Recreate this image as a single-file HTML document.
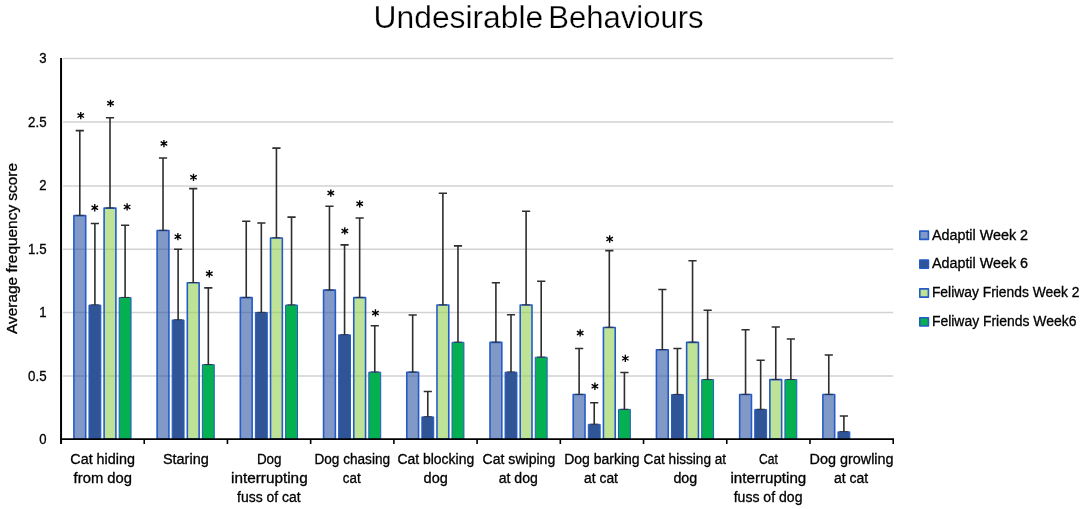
<!DOCTYPE html>
<html><head><meta charset="utf-8"><title>Undesirable Behaviours</title>
<style>html,body{margin:0;padding:0;background:#fff}body{width:1084px;height:509px;overflow:hidden}svg{display:block;will-change:transform;opacity:.999}text{font-family:"Liberation Sans",sans-serif;fill:#000;stroke:#000;stroke-width:.3px}</style></head><body>
<svg width="1084" height="509" viewBox="0 0 1084 509">
<rect width="1084" height="509" fill="#fff"/>
<g stroke="#d2d2d2" stroke-width="1.5">
<line x1="63" y1="375.95" x2="893.2" y2="375.95"/>
<line x1="63" y1="312.60" x2="893.2" y2="312.60"/>
<line x1="63" y1="249.15" x2="893.2" y2="249.15"/>
<line x1="63" y1="186.00" x2="893.2" y2="186.00"/>
<line x1="63" y1="121.90" x2="893.2" y2="121.90"/>
<line x1="63" y1="58.40" x2="893.2" y2="58.40"/>
</g>
<g stroke-width="1.6" stroke-linejoin="round">
<rect x="73.90" y="215.59" width="11.80" height="223.41" fill="#2b55a2" fill-opacity="0.6" stroke="#255bc9" stroke-width="1.6"/>
<rect x="88.95" y="305.02" width="11.90" height="133.98" fill="#2f5597" fill-opacity="1" stroke="#255bc9" stroke-width="1.0"/>
<rect x="104.10" y="208.13" width="11.80" height="230.87" fill="#92d050" fill-opacity="0.6" stroke="#255bc9" stroke-width="1.6"/>
<rect x="119.15" y="297.57" width="11.90" height="141.43" fill="#05b050" fill-opacity="1" stroke="#255bc9" stroke-width="1.0"/>
<rect x="157.12" y="230.50" width="11.80" height="208.50" fill="#2b55a2" fill-opacity="0.6" stroke="#255bc9" stroke-width="1.6"/>
<rect x="172.17" y="319.94" width="11.90" height="119.06" fill="#2f5597" fill-opacity="1" stroke="#255bc9" stroke-width="1.0"/>
<rect x="187.32" y="282.70" width="11.80" height="156.30" fill="#92d050" fill-opacity="0.6" stroke="#255bc9" stroke-width="1.6"/>
<rect x="202.37" y="364.68" width="11.90" height="74.32" fill="#05b050" fill-opacity="1" stroke="#255bc9" stroke-width="1.0"/>
<rect x="240.34" y="297.62" width="11.80" height="141.38" fill="#2b55a2" fill-opacity="0.6" stroke="#255bc9" stroke-width="1.6"/>
<rect x="255.39" y="312.48" width="11.90" height="126.52" fill="#2f5597" fill-opacity="1" stroke="#255bc9" stroke-width="1.0"/>
<rect x="270.54" y="237.96" width="11.80" height="201.04" fill="#92d050" fill-opacity="0.6" stroke="#255bc9" stroke-width="1.6"/>
<rect x="285.59" y="305.02" width="11.90" height="133.98" fill="#05b050" fill-opacity="1" stroke="#255bc9" stroke-width="1.0"/>
<rect x="323.56" y="290.16" width="11.80" height="148.84" fill="#2b55a2" fill-opacity="0.6" stroke="#255bc9" stroke-width="1.6"/>
<rect x="338.61" y="334.85" width="11.90" height="104.15" fill="#2f5597" fill-opacity="1" stroke="#255bc9" stroke-width="1.0"/>
<rect x="353.76" y="297.62" width="11.80" height="141.38" fill="#92d050" fill-opacity="0.6" stroke="#255bc9" stroke-width="1.6"/>
<rect x="368.81" y="372.14" width="11.90" height="66.86" fill="#05b050" fill-opacity="1" stroke="#255bc9" stroke-width="1.0"/>
<rect x="406.78" y="372.19" width="11.80" height="66.81" fill="#2b55a2" fill-opacity="0.6" stroke="#255bc9" stroke-width="1.6"/>
<rect x="421.83" y="416.88" width="11.90" height="22.12" fill="#2f5597" fill-opacity="1" stroke="#255bc9" stroke-width="1.0"/>
<rect x="436.98" y="305.07" width="11.80" height="133.93" fill="#92d050" fill-opacity="0.6" stroke="#255bc9" stroke-width="1.6"/>
<rect x="452.03" y="342.31" width="11.90" height="96.69" fill="#05b050" fill-opacity="1" stroke="#255bc9" stroke-width="1.0"/>
<rect x="490.00" y="342.36" width="11.80" height="96.64" fill="#2b55a2" fill-opacity="0.6" stroke="#255bc9" stroke-width="1.6"/>
<rect x="505.05" y="372.14" width="11.90" height="66.86" fill="#2f5597" fill-opacity="1" stroke="#255bc9" stroke-width="1.0"/>
<rect x="520.20" y="305.07" width="11.80" height="133.93" fill="#92d050" fill-opacity="0.6" stroke="#255bc9" stroke-width="1.6"/>
<rect x="535.25" y="357.22" width="11.90" height="81.78" fill="#05b050" fill-opacity="1" stroke="#255bc9" stroke-width="1.0"/>
<rect x="573.22" y="394.56" width="11.80" height="44.44" fill="#2b55a2" fill-opacity="0.6" stroke="#255bc9" stroke-width="1.6"/>
<rect x="588.27" y="424.34" width="11.90" height="14.66" fill="#2f5597" fill-opacity="1" stroke="#255bc9" stroke-width="1.0"/>
<rect x="603.42" y="327.44" width="11.80" height="111.56" fill="#92d050" fill-opacity="0.6" stroke="#255bc9" stroke-width="1.6"/>
<rect x="618.47" y="409.42" width="11.90" height="29.58" fill="#05b050" fill-opacity="1" stroke="#255bc9" stroke-width="1.0"/>
<rect x="656.44" y="349.82" width="11.80" height="89.18" fill="#2b55a2" fill-opacity="0.6" stroke="#255bc9" stroke-width="1.6"/>
<rect x="671.49" y="394.51" width="11.90" height="44.49" fill="#2f5597" fill-opacity="1" stroke="#255bc9" stroke-width="1.0"/>
<rect x="686.64" y="342.36" width="11.80" height="96.64" fill="#92d050" fill-opacity="0.6" stroke="#255bc9" stroke-width="1.6"/>
<rect x="701.69" y="379.59" width="11.90" height="59.41" fill="#05b050" fill-opacity="1" stroke="#255bc9" stroke-width="1.0"/>
<rect x="739.66" y="394.56" width="11.80" height="44.44" fill="#2b55a2" fill-opacity="0.6" stroke="#255bc9" stroke-width="1.6"/>
<rect x="754.71" y="409.42" width="11.90" height="29.58" fill="#2f5597" fill-opacity="1" stroke="#255bc9" stroke-width="1.0"/>
<rect x="769.86" y="379.64" width="11.80" height="59.36" fill="#92d050" fill-opacity="0.6" stroke="#255bc9" stroke-width="1.6"/>
<rect x="784.91" y="379.59" width="11.90" height="59.41" fill="#05b050" fill-opacity="1" stroke="#255bc9" stroke-width="1.0"/>
<rect x="822.88" y="394.56" width="11.80" height="44.44" fill="#2b55a2" fill-opacity="0.6" stroke="#255bc9" stroke-width="1.6"/>
<rect x="837.93" y="431.79" width="11.90" height="7.21" fill="#2f5597" fill-opacity="1" stroke="#255bc9" stroke-width="1.0"/>
</g>
<g stroke="#2e2e2e" stroke-width="1.6" fill="none">
<path d="M79.80 215.59V130.60M75.70 130.60H83.90"/><path stroke-width="0.9" d="M75.80 215.39H83.80"/>
<path d="M94.90 305.07V223.50M90.80 223.50H99.00"/><path stroke-width="0.9" d="M90.90 304.87H98.90"/>
<path d="M110.00 208.13V117.80M105.90 117.80H114.10"/><path stroke-width="0.9" d="M106.00 207.93H114.00"/>
<path d="M125.10 297.62V225.30M121.00 225.30H129.20"/><path stroke-width="0.9" d="M121.10 297.42H129.10"/>
<path d="M163.02 230.50V158.00M158.92 158.00H167.12"/><path stroke-width="0.9" d="M159.02 230.30H167.02"/>
<path d="M178.12 319.99V249.30M174.02 249.30H182.22"/><path stroke-width="0.9" d="M174.12 319.79H182.12"/>
<path d="M193.22 282.70V188.60M189.12 188.60H197.32"/><path stroke-width="0.9" d="M189.22 282.50H197.22"/>
<path d="M208.32 364.73V287.90M204.22 287.90H212.42"/><path stroke-width="0.9" d="M204.32 364.53H212.32"/>
<path d="M246.24 297.62V221.20M242.14 221.20H250.34"/><path stroke-width="0.9" d="M242.24 297.42H250.24"/>
<path d="M261.34 312.53V223.00M257.24 223.00H265.44"/><path stroke-width="0.9" d="M257.34 312.33H265.34"/>
<path d="M276.44 237.96V148.10M272.34 148.10H280.54"/><path stroke-width="0.9" d="M272.44 237.76H280.44"/>
<path d="M291.54 305.07V217.15M287.44 217.15H295.64"/><path stroke-width="0.9" d="M287.54 304.87H295.54"/>
<path d="M329.46 290.16V206.25M325.36 206.25H333.56"/><path stroke-width="0.9" d="M325.46 289.96H333.46"/>
<path d="M344.56 334.90V244.90M340.46 244.90H348.66"/><path stroke-width="0.9" d="M340.56 334.70H348.56"/>
<path d="M359.66 297.62V218.00M355.56 218.00H363.76"/><path stroke-width="0.9" d="M355.66 297.42H363.66"/>
<path d="M374.76 372.19V325.80M370.66 325.80H378.86"/><path stroke-width="0.9" d="M370.76 371.99H378.76"/>
<path d="M412.68 372.19V315.00M408.58 315.00H416.78"/><path stroke-width="0.9" d="M408.68 371.99H416.68"/>
<path d="M427.78 416.93V391.50M423.68 391.50H431.88"/><path stroke-width="0.9" d="M423.78 416.73H431.78"/>
<path d="M442.88 305.07V193.30M438.78 193.30H446.98"/><path stroke-width="0.9" d="M438.88 304.87H446.88"/>
<path d="M457.98 342.36V245.90M453.88 245.90H462.08"/><path stroke-width="0.9" d="M453.98 342.16H461.98"/>
<path d="M495.90 342.36V282.75M491.80 282.75H500.00"/><path stroke-width="0.9" d="M491.90 342.16H499.90"/>
<path d="M511.00 372.19V314.75M506.90 314.75H515.10"/><path stroke-width="0.9" d="M507.00 371.99H515.00"/>
<path d="M526.10 305.07V211.25M522.00 211.25H530.20"/><path stroke-width="0.9" d="M522.10 304.87H530.10"/>
<path d="M541.20 357.27V281.25M537.10 281.25H545.30"/><path stroke-width="0.9" d="M537.20 357.07H545.20"/>
<path d="M579.12 394.56V348.50M575.02 348.50H583.22"/><path stroke-width="0.9" d="M575.12 394.36H583.12"/>
<path d="M594.22 424.39V402.80M590.12 402.80H598.32"/><path stroke-width="0.9" d="M590.22 424.19H598.22"/>
<path d="M609.32 327.44V250.65M605.22 250.65H613.42"/><path stroke-width="0.9" d="M605.32 327.24H613.32"/>
<path d="M624.42 409.47V372.50M620.32 372.50H628.52"/><path stroke-width="0.9" d="M620.42 409.27H628.42"/>
<path d="M662.34 349.82V289.50M658.24 289.50H666.44"/><path stroke-width="0.9" d="M658.34 349.62H666.34"/>
<path d="M677.44 394.56V348.50M673.34 348.50H681.54"/><path stroke-width="0.9" d="M673.44 394.36H681.44"/>
<path d="M692.54 342.36V260.75M688.44 260.75H696.64"/><path stroke-width="0.9" d="M688.54 342.16H696.54"/>
<path d="M707.64 379.64V310.25M703.54 310.25H711.74"/><path stroke-width="0.9" d="M703.64 379.44H711.64"/>
<path d="M745.56 394.56V329.75M741.46 329.75H749.66"/><path stroke-width="0.9" d="M741.56 394.36H749.56"/>
<path d="M760.66 409.47V360.25M756.56 360.25H764.76"/><path stroke-width="0.9" d="M756.66 409.27H764.66"/>
<path d="M775.76 379.64V327.00M771.66 327.00H779.86"/><path stroke-width="0.9" d="M771.76 379.44H779.76"/>
<path d="M790.86 379.64V339.00M786.76 339.00H794.96"/><path stroke-width="0.9" d="M786.86 379.44H794.86"/>
<path d="M828.78 394.56V355.00M824.68 355.00H832.88"/><path stroke-width="0.9" d="M824.78 394.36H832.78"/>
<path d="M843.88 431.84V416.00M839.78 416.00H847.98"/><path stroke-width="0.9" d="M839.88 431.64H847.88"/>
</g>
<g stroke="#000" stroke-width="1.35" stroke-linecap="butt">
<path d="M80.76 111.95V119.25M77.48 113.70L84.05 117.50M77.48 117.50L84.05 113.70"/>
<path d="M94.76 204.12V211.42M91.48 205.87L98.05 209.67M91.48 209.67L98.05 205.87"/>
<path d="M110.50 99.65V106.95M107.22 101.40L113.78 105.20M107.22 105.20L113.78 101.40"/>
<path d="M127.10 203.25V210.55M123.81 205.00L130.38 208.80M123.81 208.80L130.38 205.00"/>
<path d="M163.93 139.90V147.20M160.65 141.65L167.22 145.45M160.65 145.45L167.22 141.65"/>
<path d="M177.87 233.02V240.32M174.59 234.77L181.16 238.57M174.59 238.57L181.16 234.77"/>
<path d="M193.50 173.68V180.98M190.22 175.43L196.78 179.23M190.22 179.23L196.78 175.43"/>
<path d="M209.30 270.08V277.38M206.02 271.83L212.59 275.63M206.02 275.63L212.59 271.83"/>
<path d="M330.81 189.38V196.68M327.52 191.13L334.10 194.93M327.52 194.93L334.10 191.13"/>
<path d="M344.80 227.31V234.61M341.51 229.06L348.09 232.86M341.51 232.86L348.09 229.06"/>
<path d="M359.70 200.15V207.45M356.41 201.90L362.99 205.70M356.41 205.70L362.99 201.90"/>
<path d="M375.44 309.31V316.61M372.15 311.06L378.73 314.86M372.15 314.86L378.73 311.06"/>
<path d="M580.18 329.31V336.61M576.89 331.06L583.46 334.86M576.89 334.86L583.46 331.06"/>
<path d="M594.90 382.61V389.91M591.62 384.36L598.18 388.16M591.62 388.16L598.18 384.36"/>
<path d="M609.66 235.34V242.64M606.38 237.09L612.94 240.89M606.38 240.89L612.94 237.09"/>
<path d="M625.32 354.72V362.02M622.04 356.47L628.61 360.27M622.04 360.27L628.61 356.47"/>
</g>
<g stroke="#000" stroke-width="2" fill="none">
<line x1="61.05" y1="58" x2="61.05" y2="444"/>
<line x1="60.0" y1="439.1" x2="894" y2="439.1" stroke-width="1.75"/>
</g><g stroke="#000" stroke-width="1.6">
<line x1="144.22" y1="439" x2="144.22" y2="444"/>
<line x1="227.44" y1="439" x2="227.44" y2="444"/>
<line x1="310.66" y1="439" x2="310.66" y2="444"/>
<line x1="393.88" y1="439" x2="393.88" y2="444"/>
<line x1="477.10" y1="439" x2="477.10" y2="444"/>
<line x1="560.32" y1="439" x2="560.32" y2="444"/>
<line x1="643.54" y1="439" x2="643.54" y2="444"/>
<line x1="726.76" y1="439" x2="726.76" y2="444"/>
<line x1="809.98" y1="439" x2="809.98" y2="444"/>
<line x1="893.20" y1="439" x2="893.20" y2="444"/>
</g>
<text x="373.6" y="28.4" font-size="31" style="stroke:#fff;stroke-width:.25px" lengthAdjust="spacingAndGlyphs" textLength="169.6">Undesirable</text>
<text x="548.2" y="28.4" font-size="31" style="stroke:#fff;stroke-width:.25px" lengthAdjust="spacingAndGlyphs" textLength="155.4">Behaviours</text>
<text x="46.6" y="444.40" font-size="14" text-anchor="end" textLength="7.3" lengthAdjust="spacingAndGlyphs">0</text>
<text x="46.6" y="380.90" font-size="14" text-anchor="end" textLength="18.5" lengthAdjust="spacingAndGlyphs">0.5</text>
<text x="46.6" y="317.40" font-size="14" text-anchor="end" textLength="7.3" lengthAdjust="spacingAndGlyphs">1</text>
<text x="46.6" y="253.90" font-size="14" text-anchor="end" textLength="18.5" lengthAdjust="spacingAndGlyphs">1.5</text>
<text x="46.6" y="190.40" font-size="14" text-anchor="end" textLength="7.3" lengthAdjust="spacingAndGlyphs">2</text>
<text x="46.6" y="126.90" font-size="14" text-anchor="end" textLength="18.5" lengthAdjust="spacingAndGlyphs">2.5</text>
<text x="46.6" y="63.40" font-size="14" text-anchor="end" textLength="7.3" lengthAdjust="spacingAndGlyphs">3</text>
<text transform="translate(17.4,248.45) rotate(-90)" font-size="14" text-anchor="middle" textLength="171" lengthAdjust="spacingAndGlyphs">Average frequency score</text>
<text x="102.61" y="464.00" font-size="14" text-anchor="middle" textLength="64.6" lengthAdjust="spacingAndGlyphs">Cat hiding</text>
<text x="102.81" y="482.75" font-size="14" text-anchor="middle" textLength="58.4" lengthAdjust="spacingAndGlyphs">from dog</text>
<text x="185.83" y="464.00" font-size="14" text-anchor="middle" textLength="45.8" lengthAdjust="spacingAndGlyphs">Staring</text>
<text x="269.25" y="464.00" font-size="14" text-anchor="middle" textLength="24.6" lengthAdjust="spacingAndGlyphs">Dog</text>
<text x="269.35" y="482.75" font-size="14" text-anchor="middle" textLength="76.6" lengthAdjust="spacingAndGlyphs">interrupting</text>
<text x="268.85" y="501.50" font-size="14" text-anchor="middle" textLength="63.5" lengthAdjust="spacingAndGlyphs">fuss of cat</text>
<text x="352.27" y="464.00" font-size="14" text-anchor="middle" textLength="75.6" lengthAdjust="spacingAndGlyphs">Dog chasing</text>
<text x="351.77" y="482.75" font-size="14" text-anchor="middle" textLength="17.8" lengthAdjust="spacingAndGlyphs">cat</text>
<text x="435.79" y="464.00" font-size="14" text-anchor="middle" textLength="76.8" lengthAdjust="spacingAndGlyphs">Cat blocking</text>
<text x="435.69" y="482.75" font-size="14" text-anchor="middle" textLength="24.2" lengthAdjust="spacingAndGlyphs">dog</text>
<text x="518.91" y="464.00" font-size="14" text-anchor="middle" textLength="72.6" lengthAdjust="spacingAndGlyphs">Cat swiping</text>
<text x="518.31" y="482.75" font-size="14" text-anchor="middle" textLength="39.2" lengthAdjust="spacingAndGlyphs">at dog</text>
<text x="601.93" y="464.00" font-size="14" text-anchor="middle" textLength="75.4" lengthAdjust="spacingAndGlyphs">Dog barking</text>
<text x="601.03" y="482.75" font-size="14" text-anchor="middle" textLength="33.9" lengthAdjust="spacingAndGlyphs">at cat</text>
<text x="684.85" y="464.00" font-size="14" text-anchor="middle" textLength="82.6" lengthAdjust="spacingAndGlyphs">Cat hissing at</text>
<text x="685.35" y="482.75" font-size="14" text-anchor="middle" textLength="23.8" lengthAdjust="spacingAndGlyphs">dog</text>
<text x="768.37" y="464.00" font-size="14" text-anchor="middle" textLength="18.8" lengthAdjust="spacingAndGlyphs">Cat</text>
<text x="768.37" y="482.75" font-size="14" text-anchor="middle" textLength="75.8" lengthAdjust="spacingAndGlyphs">interrupting</text>
<text x="768.07" y="501.50" font-size="14" text-anchor="middle" textLength="68.8" lengthAdjust="spacingAndGlyphs">fuss of dog</text>
<text x="851.59" y="464.00" font-size="14" text-anchor="middle" textLength="84.0" lengthAdjust="spacingAndGlyphs">Dog growling</text>
<text x="851.09" y="482.75" font-size="14" text-anchor="middle" textLength="34.25" lengthAdjust="spacingAndGlyphs">at cat</text>
<rect x="919.8" y="231.10" width="8.6" height="8.3" fill="#8099c6" stroke="#255bc9" stroke-width="1.6" stroke-linejoin="round"/>
<text x="931.9" y="239.60" font-size="14" textLength="96.2" lengthAdjust="spacingAndGlyphs">Adaptil Week 2</text>
<rect x="919.8" y="259.97" width="8.6" height="8.3" fill="#2f5597" stroke="#255bc9" stroke-width="1.6" stroke-linejoin="round"/>
<text x="931.9" y="268.47" font-size="14" textLength="96.2" lengthAdjust="spacingAndGlyphs">Adaptil Week 6</text>
<rect x="919.8" y="288.84" width="8.6" height="8.3" fill="#bde394" stroke="#255bc9" stroke-width="1.6" stroke-linejoin="round"/>
<text x="931.9" y="297.34" font-size="14" textLength="147.5" lengthAdjust="spacingAndGlyphs">Feliway Friends Week 2</text>
<rect x="919.8" y="317.71" width="8.6" height="8.3" fill="#05b050" stroke="#255bc9" stroke-width="1.6" stroke-linejoin="round"/>
<text x="931.9" y="326.21" font-size="14" textLength="144.5" lengthAdjust="spacingAndGlyphs">Feliway Friends Week6</text>
</svg></body></html>
